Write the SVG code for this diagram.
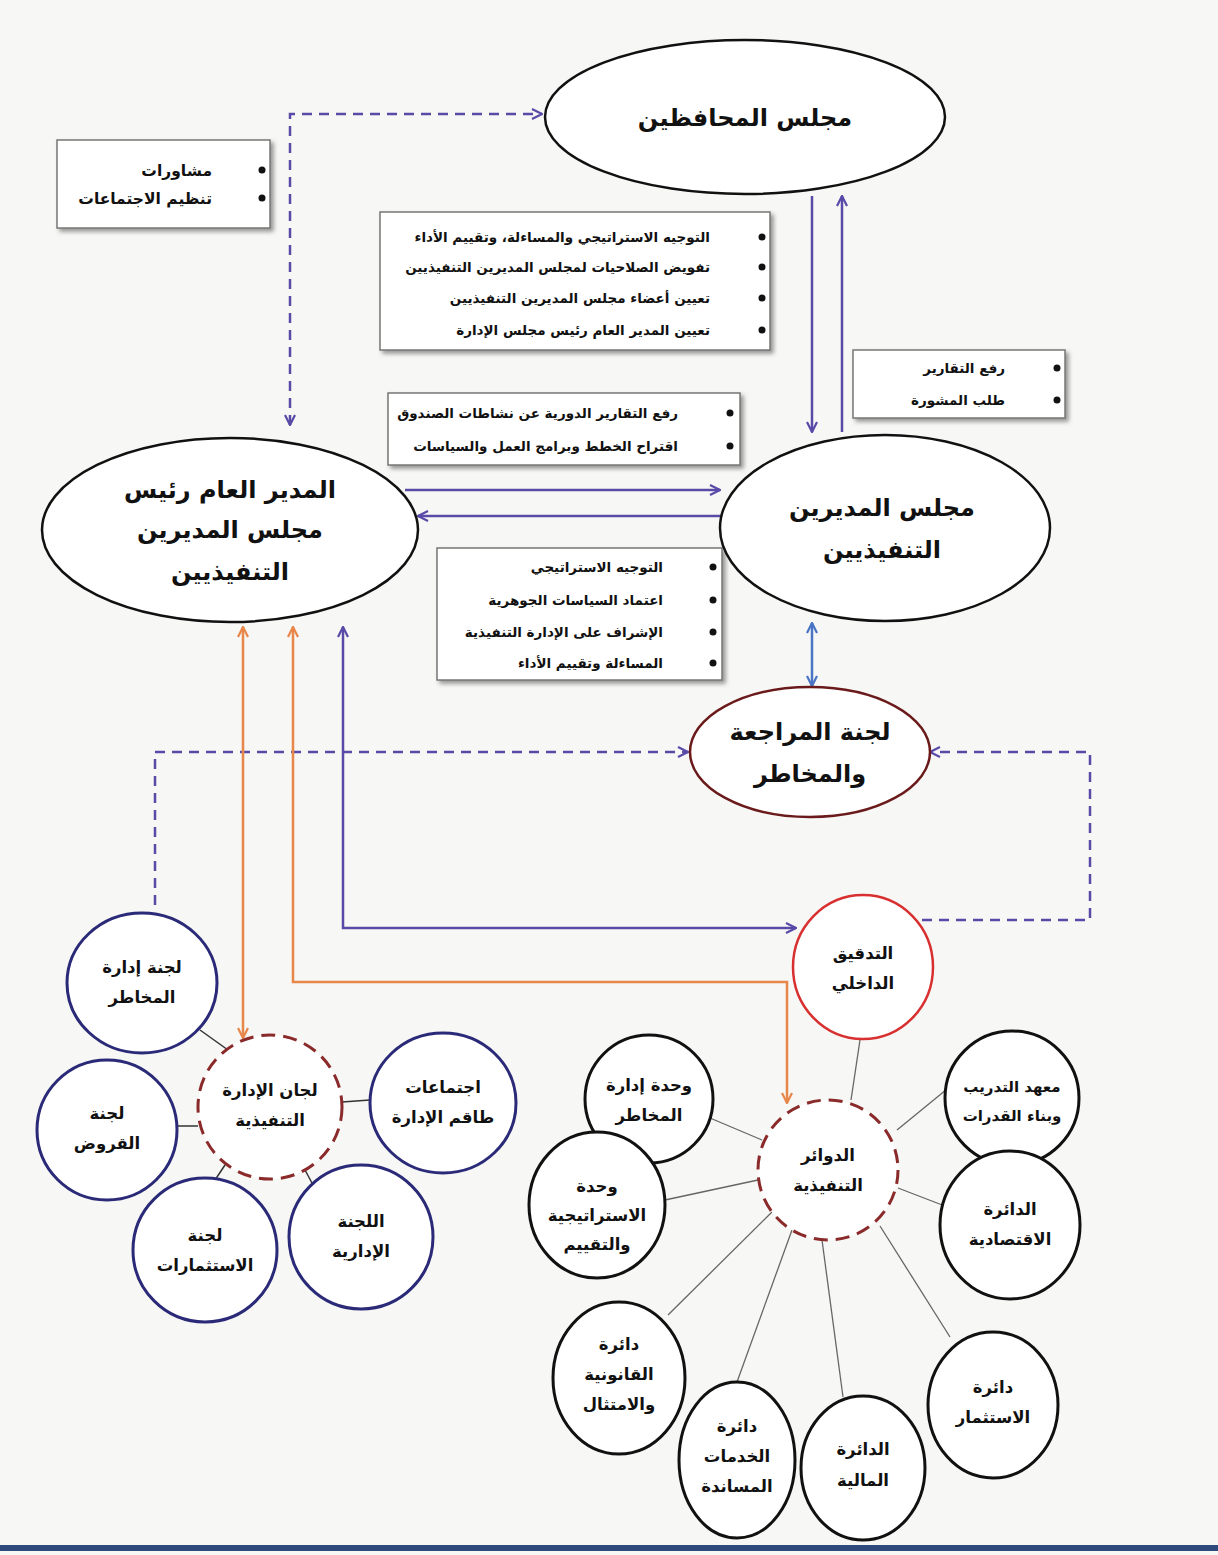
<svg xmlns="http://www.w3.org/2000/svg" width="1218" height="1555" viewBox="0 0 1218 1555">
<defs>
<style>
.ar{font-family:"DejaVu Sans",sans-serif;fill:#111;}
.big{font-size:24px;font-weight:bold;text-anchor:middle;}
.mid{font-size:16.5px;font-weight:bold;text-anchor:middle;}
.box{font-size:13.5px;font-weight:bold;text-anchor:end;}
.boxr{fill:#fff;stroke:#777;stroke-width:1.5;filter:url(#sh);}
.ell{fill:#fff;stroke:#111;stroke-width:2.5;}
.navy{fill:#fff;stroke:#2a2a78;stroke-width:3;}
.blk{fill:#fff;stroke:#111;stroke-width:3;}
.dash{fill:#fff;stroke:#8a2a2a;stroke-width:3;stroke-dasharray:14 8;}
.pd{fill:none;stroke:#5a4aa8;stroke-width:2.5;stroke-dasharray:10 7;}
.ps{fill:none;stroke:#5a4aa8;stroke-width:2.5;}
.bs{fill:none;stroke:#4a74c4;stroke-width:2.5;}
.os{fill:none;stroke:#e8874a;stroke-width:2.5;}
.cl{stroke:#333;stroke-width:1.5;}
.gl{stroke:#666;stroke-width:1.3;}
</style>
<filter id="sh" x="-5%" y="-10%" width="112%" height="130%"><feDropShadow dx="3" dy="3" stdDeviation="2" flood-color="#555" flood-opacity="0.6"/></filter>
<marker id="ap" viewBox="0 0 12 12" refX="11" refY="6" markerWidth="12" markerHeight="12" markerUnits="userSpaceOnUse" orient="auto-start-reverse"><path d="M1,1 L11,6 L1,11" fill="none" stroke="#5a4aa8" stroke-width="2.2"/></marker>
<marker id="ab" viewBox="0 0 12 12" refX="11" refY="6" markerWidth="12" markerHeight="12" markerUnits="userSpaceOnUse" orient="auto-start-reverse"><path d="M1,1 L11,6 L1,11" fill="none" stroke="#4a74c4" stroke-width="2.2"/></marker>
<marker id="ao" viewBox="0 0 12 12" refX="11" refY="6" markerWidth="12" markerHeight="12" markerUnits="userSpaceOnUse" orient="auto-start-reverse"><path d="M1,1 L11,6 L1,11" fill="none" stroke="#e8874a" stroke-width="2.2"/></marker>
</defs>
<rect x="0" y="0" width="1218" height="1555" fill="#f7f7f5"/>
<rect x="0" y="1545" width="1218" height="6" fill="#2e4a7a"/>

<g id="connectors">
<path class="pd" d="M290,425 L290,114 L542,114" marker-start="url(#ap)" marker-end="url(#ap)"/>
<path class="ps" d="M812,196 L812,432" marker-end="url(#ap)"/>
<path class="ps" d="M842,432 L842,196" marker-end="url(#ap)"/>
<path class="ps" d="M405,490 L720,490" marker-end="url(#ap)"/>
<path class="ps" d="M722,516 L418,516" marker-end="url(#ap)"/>
<path class="bs" d="M812,623 L812,686" marker-start="url(#ab)" marker-end="url(#ab)"/>
<path class="pd" d="M155,905 L155,752 L688,752" marker-end="url(#ap)"/>
<path class="pd" d="M905,920 L1090,920 L1090,752 L930,752" marker-end="url(#ap)"/>
<path class="ps" d="M343,627 L343,928 L796,928" marker-start="url(#ap)" marker-end="url(#ap)"/>
<path class="os" d="M243,627 L243,1038" marker-start="url(#ao)" marker-end="url(#ao)"/>
<path class="os" d="M293,627 L293,982 L787,982 L787,1103" marker-start="url(#ao)" marker-end="url(#ao)"/>
<line class="cl" x1="200" y1="1030" x2="228" y2="1050"/>
<line class="cl" x1="177" y1="1126" x2="198" y2="1126"/>
<line class="cl" x1="342" y1="1102" x2="370" y2="1100"/>
<line class="cl" x1="225" y1="1165" x2="215" y2="1180"/>
<line class="cl" x1="305" y1="1170" x2="312" y2="1183"/>
<line class="gl" x1="860" y1="1040" x2="851" y2="1100"/>
<line class="gl" x1="897" y1="1130" x2="952" y2="1085"/>
<line class="gl" x1="710" y1="1118" x2="762" y2="1140"/>
<line class="gl" x1="898" y1="1188" x2="950" y2="1208"/>
<line class="gl" x1="665" y1="1200" x2="758" y2="1180"/>
<line class="gl" x1="668" y1="1315" x2="772" y2="1212"/>
<line class="gl" x1="737" y1="1382" x2="792" y2="1230"/>
<line class="gl" x1="843" y1="1397" x2="822" y2="1240"/>
<line class="gl" x1="950" y1="1337" x2="880" y2="1226"/>
</g>

<g id="box-consult">
<rect class="boxr" x="57" y="140" width="213" height="88"/>
<circle cx="262" cy="170" r="3.5" fill="#111"/><circle cx="262" cy="198" r="3.5" fill="#111"/>
<text class="ar box" x="212" y="176" style="font-size:15.5px">مشاورات</text>
<text class="ar box" x="212" y="204" style="font-size:15.5px">تنظيم الاجتماعات</text>
</g>

<g id="box-governors-tasks">
<rect class="boxr" x="380" y="212" width="390" height="138"/>
<circle cx="762" cy="237" r="3.5" fill="#111"/><circle cx="762" cy="267" r="3.5" fill="#111"/><circle cx="762" cy="298" r="3.5" fill="#111"/><circle cx="762" cy="330" r="3.5" fill="#111"/>
<text class="ar box" x="710" y="242">التوجيه الاستراتيجي والمساءلة، وتقييم الأداء</text>
<text class="ar box" x="710" y="272">تفويض الصلاحيات لمجلس المديرين التنفيذيين</text>
<text class="ar box" x="710" y="303">تعيين أعضاء مجلس المديرين التنفيذيين</text>
<text class="ar box" x="710" y="335">تعيين المدير العام رئيس مجلس الإدارة</text>
</g>

<g id="box-reports">
<rect class="boxr" x="853" y="350" width="212" height="68"/>
<circle cx="1057" cy="368" r="3.5" fill="#111"/><circle cx="1057" cy="400" r="3.5" fill="#111"/>
<text class="ar box" x="1005" y="373">رفع التقارير</text>
<text class="ar box" x="1005" y="405">طلب المشورة</text>
</g>

<g id="box-gm-tasks">
<rect class="boxr" x="388" y="393" width="352" height="72"/>
<circle cx="730" cy="413" r="3.5" fill="#111"/><circle cx="730" cy="446" r="3.5" fill="#111"/>
<text class="ar box" x="678" y="418">رفع التقارير الدورية عن نشاطات الصندوق</text>
<text class="ar box" x="678" y="451">اقتراح الخطط وبرامج العمل والسياسات</text>
</g>

<g id="box-board-tasks">
<rect class="boxr" x="437" y="548" width="285" height="132"/>
<circle cx="713" cy="567" r="3.5" fill="#111"/><circle cx="713" cy="600" r="3.5" fill="#111"/><circle cx="713" cy="632" r="3.5" fill="#111"/><circle cx="713" cy="663" r="3.5" fill="#111"/>
<text class="ar box" x="663" y="572">التوجيه الاستراتيجي</text>
<text class="ar box" x="663" y="605">اعتماد السياسات الجوهرية</text>
<text class="ar box" x="663" y="637">الإشراف على الإدارة التنفيذية</text>
<text class="ar box" x="663" y="668">المساءلة وتقييم الأداء</text>
</g>

<g id="governors">
<ellipse class="ell" cx="745" cy="117" rx="200" ry="77"/>
<text class="ar big" x="745" y="126">مجلس المحافظين</text>
</g>

<g id="gm">
<ellipse class="ell" cx="230" cy="530" rx="188" ry="92"/>
<text class="ar big" x="230" y="498">المدير العام رئيس</text>
<text class="ar big" x="230" y="538">مجلس المديرين</text>
<text class="ar big" x="230" y="580">التنفيذيين</text>
</g>

<g id="exec-board">
<ellipse class="ell" cx="885" cy="528" rx="165" ry="93"/>
<text class="ar big" x="882" y="516">مجلس المديرين</text>
<text class="ar big" x="882" y="558">التنفيذيين</text>
</g>

<g id="audit-committee">
<ellipse cx="810" cy="752" rx="120" ry="65" fill="#fff" stroke="#6a1a1a" stroke-width="2.5"/>
<text class="ar big" x="810" y="740">لجنة المراجعة</text>
<text class="ar big" x="810" y="782">والمخاطر</text>
</g>

<g id="exec-committees">
<circle class="dash" cx="270" cy="1107" r="72"/>
<text class="ar mid" x="270" y="1096">لجان الإدارة</text>
<text class="ar mid" x="270" y="1126">التنفيذية</text>
</g>
<g id="risk-committee">
<ellipse class="navy" cx="142" cy="983" rx="75" ry="70"/>
<text class="ar mid" x="142" y="973">لجنة إدارة</text>
<text class="ar mid" x="142" y="1003">المخاطر</text>
</g>
<g id="loans-committee">
<circle class="navy" cx="107" cy="1130" r="70"/>
<text class="ar mid" x="107" y="1119">لجنة</text>
<text class="ar mid" x="107" y="1149">القروض</text>
</g>
<g id="mgmt-meetings">
<ellipse class="navy" cx="443" cy="1103" rx="73" ry="70"/>
<text class="ar mid" x="443" y="1093">اجتماعات</text>
<text class="ar mid" x="443" y="1123">طاقم الإدارة</text>
</g>
<g id="investments-committee">
<circle class="navy" cx="205" cy="1250" r="72"/>
<text class="ar mid" x="205" y="1241">لجنة</text>
<text class="ar mid" x="205" y="1271">الاستثمارات</text>
</g>
<g id="admin-committee">
<circle class="navy" cx="361" cy="1237" r="72"/>
<text class="ar mid" x="361" y="1227">اللجنة</text>
<text class="ar mid" x="361" y="1257">الإدارية</text>
</g>

<g id="internal-audit">
<ellipse cx="863" cy="967" rx="70" ry="72" fill="#fff" stroke="#d83030" stroke-width="2.5"/>
<text class="ar mid" x="863" y="959">التدقيق</text>
<text class="ar mid" x="863" y="989">الداخلي</text>
</g>
<g id="exec-depts">
<circle class="dash" cx="828" cy="1170" r="70"/>
<text class="ar mid" x="828" y="1161">الدوائر</text>
<text class="ar mid" x="828" y="1191">التنفيذية</text>
</g>
<g id="risk-unit">
<circle class="blk" cx="649" cy="1099" r="64"/>
<text class="ar mid" x="649" y="1091">وحدة إدارة</text>
<text class="ar mid" x="649" y="1121">المخاطر</text>
</g>
<g id="training">
<circle class="blk" cx="1012" cy="1098" r="67"/>
<text class="ar mid" x="1012" y="1092" style="font-size:15px">معهد التدريب</text>
<text class="ar mid" x="1012" y="1121" style="font-size:15px">وبناء القدرات</text>
</g>
<g id="strategy-unit">
<ellipse class="blk" cx="597" cy="1205" rx="68" ry="73"/>
<text class="ar mid" x="597" y="1192">وحدة</text>
<text class="ar mid" x="597" y="1221">الاستراتيجية</text>
<text class="ar mid" x="597" y="1250">والتقييم</text>
</g>
<g id="economic">
<ellipse class="blk" cx="1010" cy="1225" rx="70" ry="74"/>
<text class="ar mid" x="1010" y="1215">الدائرة</text>
<text class="ar mid" x="1010" y="1245">الاقتصادية</text>
</g>
<g id="legal">
<ellipse class="blk" cx="619" cy="1378" rx="66" ry="76"/>
<text class="ar mid" x="619" y="1350">دائرة</text>
<text class="ar mid" x="619" y="1380">القانونية</text>
<text class="ar mid" x="619" y="1410">والامتثال</text>
</g>
<g id="support-services">
<ellipse class="blk" cx="737" cy="1460" rx="58" ry="78"/>
<text class="ar mid" x="737" y="1432">دائرة</text>
<text class="ar mid" x="737" y="1462">الخدمات</text>
<text class="ar mid" x="737" y="1492">المساندة</text>
</g>
<g id="finance">
<ellipse class="blk" cx="863" cy="1468" rx="62" ry="72"/>
<text class="ar mid" x="863" y="1455">الدائرة</text>
<text class="ar mid" x="863" y="1486">المالية</text>
</g>
<g id="investment">
<ellipse class="blk" cx="993" cy="1405" rx="65" ry="73"/>
<text class="ar mid" x="993" y="1393">دائرة</text>
<text class="ar mid" x="993" y="1423">الاستثمار</text>
</g>
</svg>
